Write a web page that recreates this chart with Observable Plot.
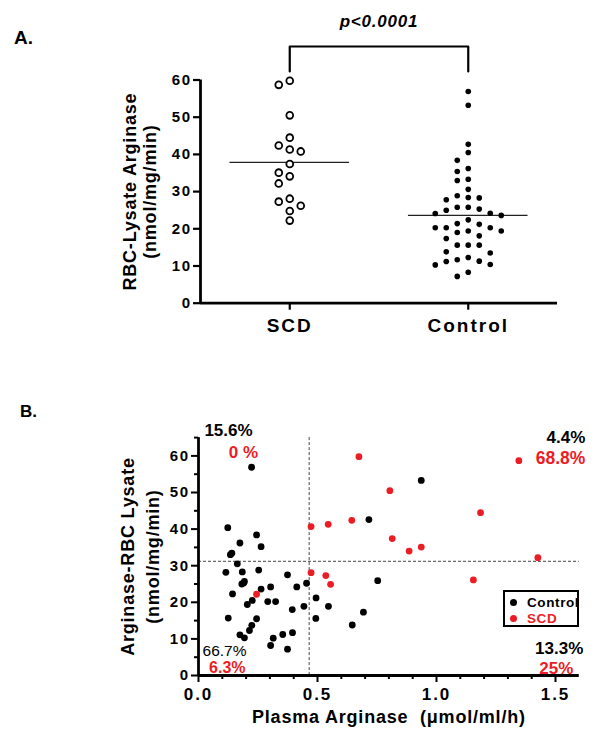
<!DOCTYPE html>
<html>
<head>
<meta charset="utf-8">
<script src="https://cdn.jsdelivr.net/npm/d3@7"></script>
<script src="https://cdn.jsdelivr.net/npm/@observablehq/plot@0.6"></script>
<style>
  html, body { margin: 0; padding: 0; background: #fff; }
  #page { position: relative; width: 600px; height: 737px; overflow: hidden;
          font-family: "Liberation Sans", Arial, Helvetica, sans-serif; color: #000; }
  #panelA { position: absolute; left: 0; top: 0; }
  #panelB { position: absolute; left: 0; top: 345px; }
  .tag { position: absolute; font-weight: bold; font-size: 19px; }
  #legend { position: absolute; left: 503px; top: 590px; width: 72px; height: 33px;
            border: 2px solid #000; background: #fff; font-weight: bold; font-size: 13.5px; }
  #legend .row { position: absolute; left: 0; height: 16px; line-height: 16px; white-space: nowrap; }
  #legend .sw { position: absolute; left: 5px; top: 4px; width: 7px; height: 7px; border-radius: 50%; }
  #legend .tx { position: absolute; left: 22px; top: 0; letter-spacing: 0.6px; }
</style>
</head>
<body>
<div id="page">
  <div class="tag" style="left:14px; top:27px;">A.</div>
  <div class="tag" style="left:20px; top:402px; font-size:17px;">B.</div>
  <div id="panelA"></div>
  <div id="panelB"></div>
  <div id="legend"></div>
</div>
<script>
// ---------------- data ----------------
const groups = ["SCD", "Control"];
const scdLysate = [59.8, 58.7, 50.5, 44.5, 42.4, 41.3, 40.8, 37.4, 35.1, 34.1, 32.2, 28.1, 27.3, 26.2, 24.8, 22.2];
const controlLysate = [56.9, 53.2, 42.7, 40.5, 38.4, 36.2, 35.4, 33.3, 33.0, 30.6,
  28.9, 28.4, 28.3, 27.8, 25.8, 25.8, 25.3, 25.0, 24.2, 24.1,
  23.6, 22.4, 21.4, 21.2, 20.3, 20.3, 20.3, 19.4, 19.4, 19.0,
  18.1, 17.4, 15.6, 15.6, 15.6, 13.8, 13.5, 12.3, 11.7, 11.3,
  11.2, 10.4, 10.3, 8.3, 7.2];
const yTicksA = [0, 10, 20, 30, 40, 50, 60];
const yLabelA = ["RBC-Lysate Arginase", "(nmol/mg/min)"];
const pLabel = "p<0.0001";
const bracketTop = 69;     // annotation bracket (data units above the axis)
const bracketFoot = 62.3;

const controlPlasma = [0.223, 0.123, 0.244, 0.174, 0.263, 0.134, 0.140, 0.716, 0.936, 0.163,
  0.115, 0.184, 0.253, 0.374, 0.454, 0.413, 0.303, 0.263, 0.182, 0.193,
  0.190, 0.143, 0.753, 0.494, 0.205, 0.226, 0.291, 0.324, 0.546, 0.443,
  0.394, 0.693, 0.125, 0.244, 0.493, 0.646, 0.224, 0.214, 0.174, 0.193,
  0.354, 0.395, 0.314, 0.303, 0.374];
const controlRbc = [56.9, 40.4, 38.4, 36.2, 35.2, 33.0, 33.4, 42.6, 53.3, 30.5,
  28.2, 28.3, 28.8, 27.5, 25.2, 24.2, 24.2, 23.6, 25.0, 25.7,
  25.3, 22.3, 25.9, 21.2, 19.4, 20.5, 20.2, 20.2, 18.9, 18.9,
  18.0, 17.3, 15.7, 15.5, 15.6, 13.8, 13.7, 12.3, 11.1, 10.3,
  11.2, 11.7, 10.2, 8.2, 7.2];
const scdPlasma = [0.674, 0.473, 0.545, 0.644, 0.473, 0.535, 0.555, 0.244, 1.346, 0.804, 1.185, 0.814, 0.885, 0.936, 1.426, 1.155];
const scdRbc = [59.8, 40.7, 41.3, 42.4, 28.1, 27.3, 24.9, 22.2, 58.7, 50.5, 44.5, 37.4, 34.0, 35.1, 32.2, 26.1];
const plasmaCut = 0.465;
const rbcCut = 31.2;
const xTicksB = [0, 0.5, 1.0, 1.5];
const yTicksB = [0, 10, 20, 30, 40, 50, 60];
const xLabelB = "Plasma Arginase  (\u03bcmol/ml/h)";
const yLabelB = ["Arginase-RBC Lysate", "(nmol/mg/min)"];
const seriesB = ["Control", "SCD"];
const pctControl = ["15.6%", "4.4%", "66.7%", "13.3%"];
const pctSCD = ["0 %", "68.8%", "6.3%", "25%"];

// ---------------- styles ----------------
const FONT = '"Liberation Sans", Arial, Helvetica, sans-serif';
const RED = "#ec1c24";
const colStep = 0.0616;   // horizontal spacing between swarm columns (x units)
const meanHalf = 0.335;   // half-length of the mean line (x units)

// column assignment for a GraphPad-style scatter (computed from the values)
function swarmColumns(values, minGap) {
  const order = d3.range(values.length).sort((a, b) => values[b] - values[a]);
  const cols = new Array(values.length);
  const placed = [];
  for (const i of order) {
    for (let k = 0; ; k++) {
      const c = k === 0 ? 0 : (k % 2 ? -Math.ceil(k / 2) : Math.ceil(k / 2));
      if (placed.every(p => p.c !== c || Math.abs(p.v - values[i]) >= minGap)) {
        cols[i] = c; placed.push({v: values[i], c}); break;
      }
    }
  }
  return cols;
}
function rowsFor(values, gi, minGap) {
  const cols = swarmColumns(values, minGap);
  return values.map((v, j) => ({group: groups[gi], gi, v, x: gi + cols[j] * colStep}));
}
const scdRows = rowsFor(scdLysate, 0, 2.5);
const controlRows = rowsFor(controlLysate, 1, 2.2);
const meanRows = [
  {gi: 0, mean: d3.mean(scdLysate)},
  {gi: 1, mean: d3.mean(controlLysate)}
];
const bracketRows = [
  {x: 0, y: bracketFoot}, {x: 0, y: bracketTop}, {x: 1, y: bracketTop}, {x: 1, y: bracketFoot}
];
const pRows = [{x: d3.mean([0, 1]), y: bracketTop, text: pLabel}];

const bold = {fontFamily: FONT, fontWeight: "bold", fill: "#000"};
const spaced = (svg, texts, spacing) =>
  d3.select(svg).selectAll("text").filter(function () { return texts.includes(this.textContent); })
    .style("letter-spacing", spacing);

const plotA = Plot.plot({
  width: 600, height: 345,
  marginLeft: 200, marginRight: 43, marginTop: 79.5, marginBottom: 42.3,
  x: {domain: [-0.5, 1.5], label: null},
  y: {domain: [0, 60], label: null},
  style: {fontFamily: FONT, color: "#000", background: "transparent", overflow: "visible"},
  marks: [
    Plot.ruleY(meanRows, {y: "mean", x1: d => d.gi - meanHalf, x2: d => d.gi + meanHalf, stroke: "#222", strokeWidth: 1.3}),
    Plot.dot(controlRows, {x: "x", y: "v", r: 2.8, fill: "#000", stroke: null}),
    Plot.dot(scdRows, {x: "x", y: "v", r: 3.4, fill: "#fff", stroke: "#000", strokeWidth: 1.8}),
    Plot.axisY({ticks: yTicksA, tickSize: 7, tickPadding: 2, fontSize: 15, fontWeight: "bold", strokeWidth: 2.2, label: null}),
    Plot.axisX({ticks: [0, 1], tickFormat: i => groups[i], tickSize: 7, tickPadding: 8, fontSize: 19, fontWeight: "bold", strokeWidth: 2.2, label: null}),
    Plot.ruleX([-0.5], {strokeWidth: 2.8}),
    Plot.ruleY([0], {strokeWidth: 2.8}),
    Plot.line(bracketRows, {x: "x", y: "y", strokeWidth: 2.2, stroke: "#000"}),
    Plot.text(pRows, {x: "x", y: "y", text: "text", dy: -20, lineAnchor: "bottom", fontSize: 17, fontStyle: "italic", ...bold}),
    Plot.text([yLabelA[0]], {text: d => d, frameAnchor: "left", textAnchor: "middle", rotate: -90, dx: -70, fontSize: 18, ...bold}),
    Plot.text([yLabelA[1]], {text: d => d, frameAnchor: "left", textAnchor: "middle", rotate: -90, dx: -50, fontSize: 18, ...bold})
  ]
});
document.getElementById("panelA").appendChild(plotA);
d3.select(plotA).selectAll('[aria-label="x-axis tick label"] text').style("letter-spacing", "2px");
d3.select(plotA).selectAll('[aria-label="y-axis tick label"] text').style("letter-spacing", "1.5px");
spaced(plotA, [pLabel, ...yLabelA], "0.8px");

// ---------------- panel B ----------------
const controlB = controlPlasma.map((x, i) => ({x, y: controlRbc[i]}));
const scdB = scdPlasma.map((x, i) => ({x, y: scdRbc[i]}));
const minorX = d3.range(1, 16).map(i => i / 10).filter(v => Math.abs(v * 2 - Math.round(v * 2)) > 1e-6);
const minorY = d3.range(5, 66, 10);

const quad = (label, anchor, dx, dy, textAnchor, fill, fontSize, weight) =>
  Plot.text([label], {text: d => d, frameAnchor: anchor, dx, dy, textAnchor, lineAnchor: "bottom",
    fontFamily: FONT, fontWeight: weight, fontSize, fill});

const plotB = Plot.plot({
  width: 600, height: 392,
  marginLeft: 198, marginRight: 21.2, marginTop: 92.1, marginBottom: 62,
  x: {domain: [0, 1.6], label: null},
  y: {domain: [0, 65], label: null},
  style: {fontFamily: FONT, color: "#000", background: "transparent", overflow: "visible"},
  marks: [
    Plot.ruleX([plasmaCut], {stroke: "#444", strokeWidth: 1, strokeDasharray: "3,2"}),
    Plot.ruleY([rbcCut], {stroke: "#444", strokeWidth: 1, strokeDasharray: "3,2"}),
    Plot.dot(controlB, {x: "x", y: "y", r: 3.4, fill: "#000", stroke: null}),
    Plot.dot(scdB, {x: "x", y: "y", r: 3.4, fill: RED, stroke: null}),
    Plot.axisY({ticks: yTicksB, tickSize: 7, tickPadding: 2, fontSize: 15, fontWeight: "bold", strokeWidth: 2, label: null}),
    Plot.axisY({ticks: minorY, tickSize: 4, tickFormat: () => "", strokeWidth: 2, label: null}),
    Plot.axisX({ticks: xTicksB, tickFormat: d3.format(".1f"), tickSize: 7, tickPadding: 5, fontSize: 17, fontWeight: "bold", strokeWidth: 2, label: null}),
    Plot.axisX({ticks: minorX, tickSize: 4, tickFormat: () => "", strokeWidth: 2, label: null}),
    Plot.ruleX([0], {strokeWidth: 2.8}),
    Plot.ruleY([0], {strokeWidth: 2.8}),
    quad(pctControl[0], "top-left", 30, -2, "middle", "#000", 17, "bold"),
    quad(pctSCD[0], "top-left", 45, 20, "middle", RED, 17, "bold"),
    quad(pctControl[1], "top-right", 6, 5, "end", "#000", 17, "bold"),
    quad(pctSCD[1], "top-right", 6, 26, "end", RED, 17.5, "bold"),
    quad(pctControl[2], "bottom-left", 48, -20, "end", "#000", 15.5, "normal"),
    quad(pctSCD[2], "bottom-left", 47, -3, "end", RED, 16, "bold"),
    quad(pctControl[3], "bottom-right", 4, -22, "end", "#000", 17, "bold"),
    quad(pctSCD[3], "bottom-right", -6, -2, "end", RED, 17, "bold"),
    Plot.text([xLabelB], {text: d => d, frameAnchor: "bottom", dy: 47, lineAnchor: "bottom", fontSize: 18, ...bold}),
    Plot.text([yLabelB[0]], {text: d => d, frameAnchor: "left", textAnchor: "middle", rotate: -90, dx: -70, fontSize: 18, ...bold}),
    Plot.text([yLabelB[1]], {text: d => d, frameAnchor: "left", textAnchor: "middle", rotate: -90, dx: -45, fontSize: 18, ...bold})
  ]
});
document.getElementById("panelB").appendChild(plotB);
d3.select(plotB).selectAll('[aria-label="x-axis tick label"] text').style("letter-spacing", "2px");
d3.select(plotB).selectAll('[aria-label="y-axis tick label"] text').style("letter-spacing", "1.5px");
spaced(plotB, [xLabelB, ...yLabelB], "0.8px");

// legend
const legend = d3.select("#legend");
seriesB.forEach((name, i) => {
  const row = legend.append("div").attr("class", "row").style("top", (3 + i * 16) + "px");
  row.append("div").attr("class", "sw").style("background", i === 0 ? "#000" : RED);
  row.append("div").attr("class", "tx").style("color", i === 0 ? "#000" : RED).text(name);
});
</script>
</body>
</html>
